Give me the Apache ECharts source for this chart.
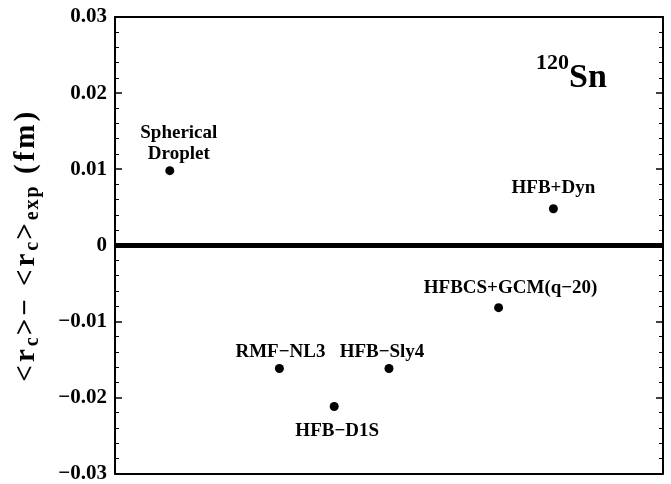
<!DOCTYPE html>
<html>
<head>
<meta charset="utf-8">
<script src="https://cdn.jsdelivr.net/npm/echarts@6/dist/echarts.min.js"></script>
<style>
  html, body { margin: 0; padding: 0; background: #fff; }
  #chart { width: 671px; height: 484px; }
</style>
</head>
<body>
<div id="chart"></div>
<script>
// models and their deviation from experiment (fm)
const models = ['Spherical\nDroplet', 'RMF\u2212NL3', 'HFB\u2212D1S', 'HFB\u2212Sly4', 'HFBCS+GCM(q\u221220)', 'HFB+Dyn'];
const xPos = [1, 3, 4, 5, 7, 8];
const deltaR = [0.0098, -0.0162, -0.0212, -0.0162, -0.0082, 0.0048];
const yTicks = [-0.03, -0.02, -0.01, 0, 0.01, 0.02, 0.03];

// label placement for each point: [dx, dy, position]
const labelPlace = [
  [9, 3, 'top'],
  [1, 4, 'top'],
  [3, 5, 'bottom'],
  [-7, 4, 'top'],
  [12, 0, 'top'],
  [0, -1, 'top']
];

const serif = '"Liberation Serif", "DejaVu Serif", serif';

const myChart = echarts.init(document.getElementById('chart'));

// wrap each character in its own rich token so the name gets a little letter spacing
function spaced(str, style) {
  return str.split('').map(function (ch) { return '{' + style + '|' + ch + '}'; }).join('');
}

function yAxisBase(pos) {
  return {
    type: 'value', min: yTicks[0], max: yTicks[yTicks.length - 1], interval: 0.01, position: pos,
    axisLine: { show: true, onZero: false, lineStyle: { color: '#000', width: 2 } },
    axisTick: { show: true, inside: true, length: 7, lineStyle: { color: '#000', width: 1.5 } },
    minorTick: { show: true, splitNumber: 5, length: 4, lineStyle: { color: '#000', width: 1 } },
    splitLine: { show: false }
  };
}

const leftAxis = yAxisBase('left');
leftAxis.axisLabel = {
  margin: 8, color: '#000', fontFamily: serif, fontWeight: 'bold', fontSize: 21,
  formatter: function (v) {
    if (Math.abs(v) < 1e-9) return '0';
    return v < 0 ? '\u2212' + (-v).toFixed(2) : v.toFixed(2);
  }
};
leftAxis.name = spaced('<r', 'm') + spaced('c', 's') + spaced('>\u2212 <r', 'm') +
  spaced('c', 's') + spaced('>', 'm') + spaced('exp', 's') + spaced(' (fm)', 'm');
leftAxis.nameLocation = 'middle';
leftAxis.nameGap = 72;
leftAxis.nameRotate = 90;
leftAxis.nameTextStyle = {
  color: '#000', fontFamily: serif, fontWeight: 'bold', fontSize: 29,
  rich: {
    m: { fontFamily: serif, fontWeight: 'bold', fontSize: 29, color: '#000', padding: [0, 3, 0, 0] },
    s: { fontFamily: serif, fontWeight: 'bold', fontSize: 20, color: '#000', padding: [12, 2, 0, 0] }
  }
};

const rightAxis = yAxisBase('right');
rightAxis.axisLabel = { show: false };

const option = {
  animation: false,
  grid: { left: 115, right: 8, top: 17, bottom: 10 },
  xAxis: [
    {
      type: 'value', min: 0, max: 10, position: 'bottom',
      axisLine: { show: true, onZero: false, lineStyle: { color: '#000', width: 2 } },
      axisTick: { show: false }, axisLabel: { show: false }, splitLine: { show: false }
    },
    {
      type: 'value', min: 0, max: 10, position: 'top',
      axisLine: { show: true, onZero: false, lineStyle: { color: '#000', width: 2 } },
      axisTick: { show: false }, axisLabel: { show: false }, splitLine: { show: false }
    }
  ],
  yAxis: [leftAxis, rightAxis],
  graphic: [
    {
      type: 'text', left: 536, top: 52,
      style: {
        text: '{sup|120}{big|Sn}',
        rich: {
          sup: { fontFamily: serif, fontWeight: 'bold', fontSize: 22, fill: '#000', padding: [0, 0, 30, 0] },
          big: { fontFamily: serif, fontWeight: 'bold', fontSize: 34, fill: '#000' }
        }
      }
    }
  ],
  series: [
    {
      type: 'scatter',
      symbol: 'circle',
      symbolSize: 9,
      itemStyle: { color: '#000', opacity: 1 },
      data: xPos.map(function (x, i) {
        return {
          value: [x, deltaR[i]],
          name: models[i],
          label: {
            show: true,
            position: labelPlace[i][2],
            offset: [labelPlace[i][0], labelPlace[i][1]],
            formatter: '{b}',
            color: '#000', fontFamily: serif, fontWeight: 'bold', fontSize: 19,
            lineHeight: 21, align: 'center'
          }
        };
      }),
      markLine: {
        silent: true, symbol: 'none', label: { show: false },
        lineStyle: { color: '#000', width: 5, type: 'solid', opacity: 1 },
        data: [{ yAxis: 0 }]
      }
    }
  ]
};

myChart.setOption(option, true);
</script>
</body>
</html>
